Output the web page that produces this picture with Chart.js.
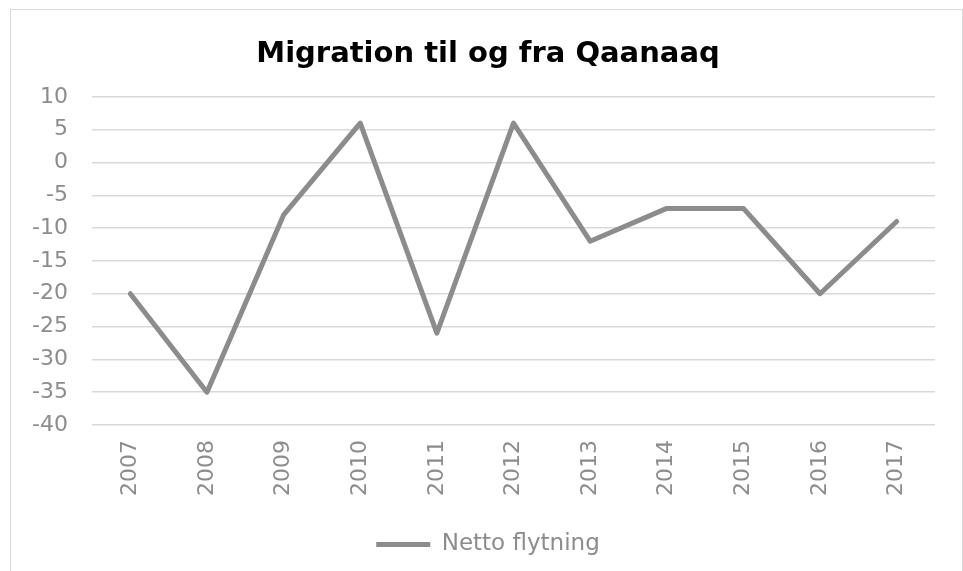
<!DOCTYPE html>
<html>
<head>
<meta charset="utf-8">
<script src="https://cdn.jsdelivr.net/npm/chart.js@4"></script>
<style>
  html, body { margin: 0; padding: 0; background: #fff; overflow: hidden; }
  #box {
    position: absolute; left: 10px; top: 9px;
    width: 953px; height: 600px;
    border: 1px solid #d9d9d9; box-sizing: border-box;
  }
  #wrap { position: absolute; left: 0; top: 0; width: 951px; height: 562px; }
</style>
</head>
<body>
<div id="box"><div id="wrap"><canvas id="chart"></canvas></div></div>
<script>
const years = ['2007', '2008', '2009', '2010', '2011', '2012', '2013', '2014', '2015', '2016', '2017'];
const nettoFlytning = [-20, -35, -8, 6, -26, 6, -12, -7, -7, -20, -9];
const yMin = -40;
const yMax = 10;
const yStep = 5;

const ctx = document.getElementById('chart').getContext('2d');
const font = 'DejaVu Sans, Verdana, sans-serif';

// the original centres title and legend on the whole frame, not on the space right of the y labels
const centreShift = {
    id: 'centreShift',
    afterLayout(chart) {
        const dx = 15;
        chart.titleBlock.left += dx;
        chart.titleBlock.right += dx;
        chart.legend.left += dx;
        chart.legend.right += dx;
    }
};

new Chart(ctx, {
    type: 'line',
    data: {
        labels: years,
        datasets: [{
            label: 'Netto flytning',
            data: nettoFlytning,
            borderColor: '#8c8c8c',
            backgroundColor: '#8c8c8c',
            borderWidth: 5,
            borderJoinStyle: 'round',
            borderCapStyle: 'round',
            pointRadius: 0,
            tension: 0
        }]
    },
    options: {
        responsive: true,
        maintainAspectRatio: false,
        animation: false,
        layout: { padding: { left: 0, right: 27, top: 0, bottom: 6 } },
        plugins: {
            title: {
                display: true,
                text: 'Migration til og fra Qaanaaq',
                color: '#000',
                font: { family: font, size: 29, weight: 'bold' },
                padding: { top: 27, bottom: 25 }
            },
            legend: {
                position: 'bottom',
                labels: {
                    usePointStyle: true,
                    pointStyle: 'line',
                    pointStyleWidth: 54,
                    color: '#8c8c8c',
                    font: { family: font, size: 23 }
                }
            },
            tooltip: { enabled: false }
        },
        scales: {
            x: {
                offset: true,
                grid: { display: false, drawTicks: false },
                border: { display: false },
                afterFit: function (axis) { axis.height = 98; },
                ticks: {
                    minRotation: 90,
                    maxRotation: 90,
                    color: '#8c8c8c',
                    padding: 15,
                    font: { family: font, size: 22 }
                }
            },
            y: {
                min: yMin,
                max: yMax,
                grid: { color: '#d9d9d9', lineWidth: 1.5, drawTicks: false },
                border: { display: false },
                afterFit: function (axis) { axis.width = 81; },
                ticks: {
                    stepSize: yStep,
                    color: '#8c8c8c',
                    padding: 24,
                    font: { family: font, size: 22 }
                }
            }
        }
    },
    plugins: [centreShift]
});
</script>
</body>
</html>
